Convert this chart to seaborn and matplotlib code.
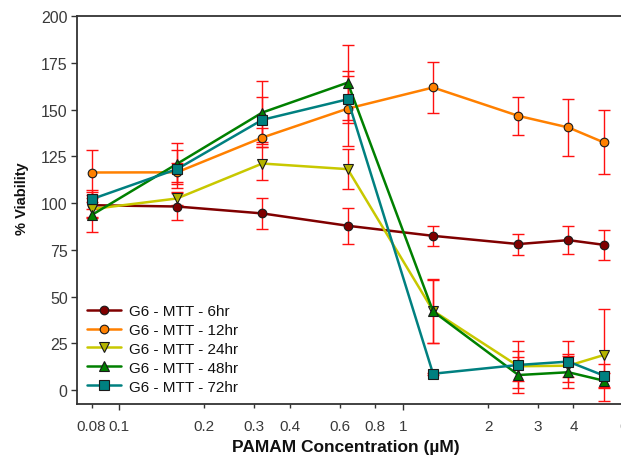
import matplotlib
matplotlib.use("Agg")
import matplotlib.pyplot as plt
import seaborn as sns
import pandas as pd

# ---- data ----
conc = [0.08, 0.16, 0.32, 0.64, 1.28, 2.56, 3.84, 5.12]
series_names = ["G6 - MTT - 6hr", "G6 - MTT - 12hr", "G6 - MTT - 24hr",
                "G6 - MTT - 48hr", "G6 - MTT - 72hr"]
v6 = [98.9, 98.2, 94.5, 87.9, 82.5, 78.1, 80.2, 77.7]
v12 = [116.4, 116.5, 135.1, 150.6, 161.9, 146.7, 140.5, 132.5]
v24 = [96.8, 102.5, 121.2, 118.2, 42.4, 12.7, 13.0, 18.7]
v48 = [93.6, 121.0, 148.5, 164.5, 42.1, 8.0, 9.5, 5.0]
v72 = [102.1, 118.2, 144.6, 155.6, 8.7, 13.4, 15.2, 7.7]
e6 = [7.0, 7.0, 8.2, 9.7, 5.3, 5.6, 7.3, 8.0]
e12 = [12.0, 5.0, 5.0, 20.0, 13.4, 10.0, 15.3, 17.1]
e24 = [4.0, 3.5, 9.0, 10.8, 17.0, 8.0, 6.3, 24.4]
e48 = [9.3, 11.0, 17.0, 20.0, 17.0, 9.6, 8.6, 4.0]
e72 = [5.0, 10.0, 12.0, 12.5, 0.5, 12.6, 10.8, 6.0]
xtick_major = [0.1, 1]
xtick_minor = [0.08, 0.2, 0.3, 0.4, 0.6, 0.8, 2, 3, 4, 6]
yticks = [0, 25, 50, 75, 100, 125, 150, 175, 200]

values = [v6, v12, v24, v48, v72]
errors = [e6, e12, e24, e48, e72]
line_colors = ["#800000", "#FF8000", "#C8C800", "#008000", "#008080"]
face_colors = ["#800000", "#FF8000", "#B4B400", "#008000", "#008080"]
markers = ["o", "o", "v", "^", "s"]
msizes = [6.2, 6.2, 7, 7, 6.5]

sns.set_style("white")
plt.rcParams["font.family"] = ["Liberation Sans", "DejaVu Sans"]

W, H = 621, 456
PT = 0.72  # points per pixel at 100 dpi
fig = plt.figure(figsize=(W / 100, H / 100), dpi=100)
left_px, right_px, top_px, bot_px = 76.7, 633.2, 17.3, 405.0
ax = fig.add_axes([left_px / W, 1 - bot_px / H,
                   (right_px - left_px) / W, (bot_px - top_px) / H])
ax.set_xscale("log")

for name, vals, err, lc, fc, mk, ms in zip(series_names, values, errors,
                                           line_colors, face_colors, markers, msizes):
    ax.errorbar(conc, vals, yerr=err, fmt="none", ecolor="#FF1010",
                elinewidth=1.0, capsize=4, capthick=1.0, zorder=1.5)
    df = pd.DataFrame({"conc": conc, "val": vals})
    sns.lineplot(data=df, x="conc", y="val", ax=ax, color=lc, linewidth=1.8,
                 marker=mk, markersize=ms, markerfacecolor=fc,
                 markeredgecolor="#1a1a1a", markeredgewidth=0.8,
                 label=name, zorder=3)

ax.set_xlim(0.0709, 6.5)
ax.set_ylim(-7.5, 200)

ax.set_xticks(xtick_major)
ax.set_xticklabels([f"{t:g}" for t in xtick_major])
ax.set_xticks(xtick_minor, minor=True)
ax.set_xticklabels([f"{t:g}" for t in xtick_minor], minor=True)
ax.set_yticks(yticks)
ax.set_yticklabels([str(t) for t in yticks])

tick_col = "#3a3a3a"
ax.tick_params(axis="x", which="major", direction="out", length=6 * PT, width=1,
               color="#333333", labelsize=11, labelcolor=tick_col, pad=9 * PT,
               bottom=True)
ax.tick_params(axis="x", which="minor", direction="out", length=4 * PT, width=1,
               color="#333333", labelsize=11, labelcolor=tick_col, pad=11 * PT,
               bottom=True)
ax.tick_params(axis="y", direction="out", length=6 * PT, width=1, color="#333333",
               labelsize=11.5, labelcolor=tick_col, pad=3 * PT, left=True)

for s in ax.spines.values():
    s.set_color("#333333")
    s.set_linewidth(1.3)
    s.set_visible(True)

ax.set_xlabel("PAMAM Concentration (µM)", fontsize=12.5, fontweight="bold",
              color="#111111")
ax.xaxis.set_label_coords((346 - left_px) / (right_px - left_px),
                          -(448 - bot_px) / (bot_px - top_px))
ax.xaxis.label.set_va("center")
ax.set_ylabel("% Viability", fontsize=10.5, fontweight="bold", color="#111111")
ax.yaxis.set_label_coords(-(left_px - 22) / (right_px - left_px),
                          (bot_px - 199) / (bot_px - top_px))
ax.yaxis.label.set_va("center")

leg = ax.legend(loc="upper left", bbox_to_anchor=(87.3 / W, 1 - 305 / H),
                bbox_transform=fig.transFigure, frameon=False, fontsize=11,
                handlelength=2.2, handletextpad=0.55, labelspacing=0.32,
                borderpad=0, borderaxespad=0)
for t in leg.get_texts():
    t.set_color("#111111")

fig.savefig("out.png", dpi=100)
